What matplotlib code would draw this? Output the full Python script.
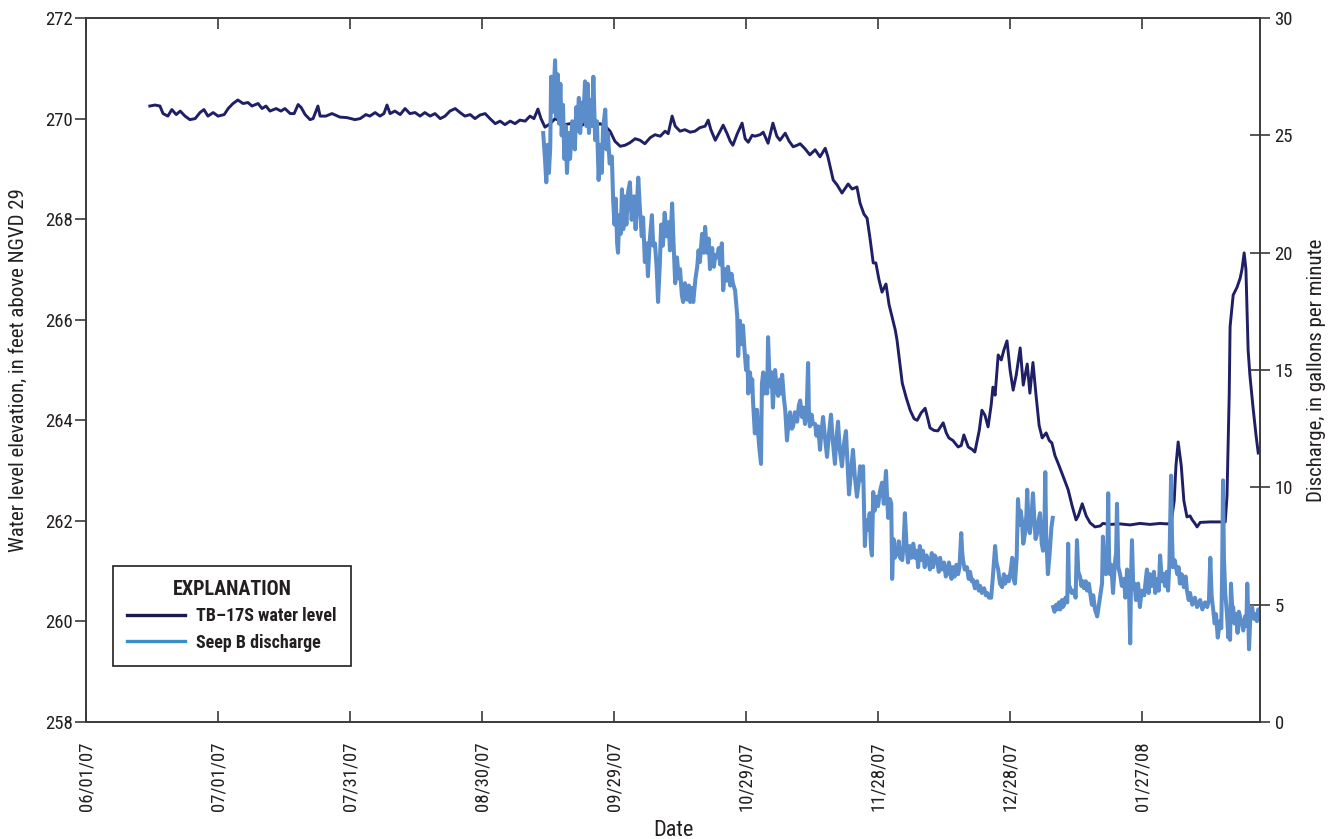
import numpy as np
import pandas as pd
import matplotlib
matplotlib.use('Agg')
import matplotlib.pyplot as plt
import matplotlib.dates as mdates
from matplotlib.lines import Line2D

plt.rcParams['font.family'] = ['Roboto Condensed', 'DejaVu Sans']

start = pd.Timestamp('2007-06-01')

# TB-17S water level, days after 06/01/07 and feet above NGVD 29
wl_day = [14.5, 15.7, 16.8, 17.5, 18.6, 19.5, 20.5, 21.4, 22.5, 23.6, 24.8, 25.9, 26.8, 27.7, 28.9,
          30.0, 31.4, 32.3, 33.4, 34.5, 35.7, 36.8, 37.7, 39.1, 40.0, 40.9, 41.8, 43.2, 44.3, 45.2,
          46.4, 47.3, 48.2, 48.9, 49.8, 50.9, 51.6, 52.7, 53.2, 54.5, 55.9, 57.7, 59.3, 61.1, 62.3,
          63.6, 64.5, 65.7, 66.8, 67.7, 68.4, 69.1, 70.2, 71.4, 72.5, 73.6, 74.8, 75.9, 77.0, 78.2,
          79.3, 80.5, 81.6, 82.7, 83.9, 85.0, 86.1, 87.3, 88.4, 89.5, 90.7, 91.8, 93.0, 94.1, 95.2,
          96.4, 97.5, 98.6, 99.8, 100.9, 101.8, 102.7, 103.4, 104.3, 105.5, 106.6, 107.7, 108.9, 110.0,
          111.1, 112.3, 113.4, 114.5, 115.7, 116.8, 118.0, 119.1, 120.2, 121.4, 122.5, 123.6, 124.8,
          125.9, 127.0, 128.2, 129.3, 130.5, 131.6, 132.3, 133.2, 133.9, 135.0, 136.1, 137.3, 138.4,
          139.5, 140.7, 141.4, 142.0, 143.0, 144.1, 144.8, 145.7, 146.4, 147.0, 148.0, 149.1, 149.8,
          150.5, 151.4, 152.0, 153.2, 153.9, 155.0, 156.1, 157.0, 157.7, 158.9, 159.8, 160.7, 161.6,
          162.3, 163.4, 164.5, 165.7, 166.8, 168.0, 168.6, 169.8, 170.7, 171.8, 173.2, 174.1, 175.2,
          175.9, 176.8, 177.5, 178.2, 178.9, 179.5, 180.2, 180.9, 181.8, 182.5, 183.2, 183.9, 184.3,
          185.0, 185.5, 186.4, 187.3, 188.2, 188.9, 189.8, 190.7, 191.4, 191.8, 192.7, 193.6, 194.8,
          195.5, 196.1, 197.0, 198.2, 198.9, 199.5, 200.5, 201.4, 202.0, 203.0, 203.6, 204.3, 205.0,
          205.7, 206.1, 206.6, 207.3, 208.0, 208.6, 209.3, 210.0, 210.7, 211.4, 212.3, 213.0, 213.9,
          214.5, 215.2, 215.9, 216.6, 217.3, 218.2, 218.9, 219.5, 220.2, 220.9, 222.0, 223.2, 224.1,
          225.0, 225.5, 226.4, 227.3, 228.2, 229.3, 230.5, 231.1, 232.7, 235.0, 237.3, 239.5, 241.8,
          244.1, 245.7, 246.6, 247.3, 247.7, 248.2, 248.9, 249.5, 250.2, 250.9, 251.4, 252.0, 252.5,
          253.2, 255.5, 257.7, 258.9, 259.3, 259.8, 260.0, 260.7, 261.6, 262.3, 262.7, 263.2, 263.6,
          264.1, 264.5, 265.2, 265.9, 266.4]
wl_ft = [270.25, 270.27, 270.25, 270.10, 270.05, 270.18, 270.08, 270.15, 270.05, 269.98, 270.00, 270.12,
         270.18, 270.05, 270.12, 270.05, 270.08, 270.20, 270.30, 270.37, 270.30, 270.32, 270.25, 270.30,
         270.20, 270.25, 270.15, 270.20, 270.15, 270.20, 270.10, 270.10, 270.28, 270.22, 270.08, 269.98,
         270.00, 270.25, 270.05, 270.05, 270.10, 270.03, 270.02, 269.98, 270.00, 270.08, 270.05, 270.12,
         270.05, 270.10, 270.27, 270.10, 270.15, 270.08, 270.20, 270.10, 270.12, 270.05, 270.12, 270.05,
         270.10, 270.00, 270.05, 270.15, 270.20, 270.12, 270.05, 270.08, 270.00, 270.07, 270.10, 270.00,
         269.90, 269.95, 269.88, 269.95, 269.90, 269.97, 269.95, 270.05, 270.00, 270.19, 270.00, 269.83,
         269.90, 270.00, 269.95, 269.88, 269.90, 269.87, 269.85, 269.90, 269.88, 269.85, 269.90, 269.85,
         269.75, 269.55, 269.45, 269.47, 269.52, 269.60, 269.57, 269.50, 269.62, 269.68, 269.65, 269.75,
         269.70, 270.05, 269.85, 269.75, 269.78, 269.73, 269.75, 269.82, 269.85, 269.97, 269.78, 269.57,
         269.75, 269.87, 269.70, 269.55, 269.47, 269.70, 269.91, 269.60, 269.53, 269.67, 269.65, 269.68,
         269.73, 269.51, 269.91, 269.65, 269.57, 269.71, 269.55, 269.44, 269.47, 269.50, 269.40, 269.28,
         269.38, 269.24, 269.41, 269.24, 268.78, 268.68, 268.52, 268.70, 268.60, 268.64, 268.32, 268.10,
         268.02, 267.60, 267.13, 267.13, 266.80, 266.55, 266.71, 266.30, 266.05, 265.80, 265.60, 265.10,
         264.74, 264.45, 264.20, 264.03, 264.00, 264.15, 264.24, 264.00, 263.85, 263.80, 263.79, 263.95,
         263.75, 263.65, 263.60, 263.47, 263.50, 263.71, 263.47, 263.42, 263.37, 263.80, 264.20, 264.10,
         263.87, 264.30, 264.66, 264.50, 265.30, 265.20, 265.40, 265.58, 265.00, 264.60, 264.90, 265.44,
         264.70, 265.12, 264.54, 265.15, 264.50, 263.90, 263.65, 263.75, 263.60, 263.55, 263.30, 263.15,
         262.90, 262.62, 262.30, 262.02, 262.10, 262.34, 262.10, 261.96, 261.88, 261.90, 261.95, 261.93,
         261.94, 261.92, 261.95, 261.93, 261.95, 261.94, 261.96, 262.40, 263.10, 263.57, 263.10, 262.40,
         262.08, 262.10, 262.02, 261.95, 261.88, 261.97, 261.98, 261.98, 261.98, 262.50, 264.50, 265.86,
         266.49, 266.65, 266.83, 267.00, 267.33, 267.00, 265.40, 264.90, 264.27, 263.70, 263.35]

# Seep B discharge, days after 06/01/07 and gallons per minute (nan = gap in record)
q_day = [103.9, 104.3, 104.6, 104.9, 105.2, 105.5, 105.7, 106.1, 106.6, 106.9, 107.2, 107.5, 107.8,
         108.1, 108.4, 108.7, 109.0, 109.3, 109.7, 110.0, 110.5, 111.1, 111.4, 111.6, 112.0, 112.3,
         112.7, 113.0, 113.4, 113.7, 114.0, 114.3, 114.7, 115.0, 115.3, 115.7, 116.1, 116.5, 116.8,
         117.2, 117.5, 118.0, 118.3, 118.6, 119.0, 119.5, 119.8, 120.1, 120.4, 120.7, 120.9, 121.2,
         121.5, 121.8, 122.1, 122.5, 122.8, 123.2, 123.6, 124.0, 124.5, 124.9, 125.5, 125.9, 126.3,
         126.6, 127.0, 127.4, 127.7, 128.1, 128.6, 128.9, 129.3, 129.7, 130.0, 130.4, 130.7, 131.1,
         131.5, 132.0, 132.4, 132.7, 133.2, 133.5, 133.9, 134.3, 134.7, 135.0, 135.4, 135.7, 136.1,
         136.6, 137.0, 137.3, 137.7, 138.0, 138.5, 138.9, 139.2, 139.5, 140.0, 140.4, 140.7, 141.1,
         141.5, 141.8, 142.3, 142.7, 143.0, 143.4, 143.8, 144.1, 144.5, 144.8, 145.2, 145.5, 145.9,
         146.4, 146.7, 147.0, 147.5, 148.0, 148.2, 148.6, 149.0, 149.3, 149.6, 150.0, 150.3, 150.5,
         150.9, 151.2, 151.4, 151.6, 152.0, 152.3, 152.5, 152.8, 153.0, 153.4, 153.6, 153.9, 154.1,
         154.5, 154.8, 155.0, 155.3, 155.5, 155.8, 156.1, 156.4, 156.6, 157.0, 157.3, 157.7, 158.0,
         158.2, 158.6, 158.9, 159.3, 159.7, 160.0, 160.4, 160.7, 161.1, 161.6, 162.0, 162.3, 162.7,
         163.0, 163.4, 163.8, 164.1, 164.3, 164.5, 164.9, 165.2, 165.7, 166.0, 166.4, 166.8, 167.1,
         167.5, 167.9, 168.4, 168.9, 169.3, 169.7, 170.2, 170.5, 170.9, 171.3, 171.8, 172.2, 172.7,
         173.0, 173.4, 173.9, 174.3, 174.7, 175.2, 175.6, 175.9, 176.3, 176.6, 177.0, 177.3, 177.7,
         178.1, 178.4, 178.6, 178.9, 179.2, 179.6, 180.0, 180.4, 180.9, 181.3, 181.8, 182.0, 182.3,
         182.7, 183.0, 183.2, 183.5, 183.8, 184.3, 184.7, 185.0, 185.5, 185.8, 186.1, 186.5, 186.8,
         187.2, 187.6, 188.0, 188.4, 188.8, 189.1, 189.5, 189.9, 190.2, 190.6, 191.0, 191.4, 191.8,
         192.2, 192.5, 192.9, 193.4, 193.8, 194.1, 194.5, 195.0, 195.4, 195.7, 196.1, 196.4, 196.7,
         197.0, 197.4, 197.8, 198.2, 198.5, 198.9, 199.1, 199.3, 199.7, 200.2, 200.6, 200.9, 201.3,
         201.6, 202.0, 202.5, 202.9, 203.2, 203.6, 204.1, 204.5, 204.8, 205.2, 205.7, 206.1, 206.6,
         206.9, 207.3, 207.7, 208.2, 208.6, 208.9, 209.3, 209.7, 210.1, 210.5, 210.8, 211.1, 211.5,
         211.8, 212.2, 212.4, 212.7, 213.0, 213.4, 213.7, 213.9, 214.2, 214.5, 214.8, 215.2, 215.5,
         215.8, 216.1, 216.5, 216.8, 217.2, 217.5, 217.8, 218.0, 218.2, 218.6, 219.0, 219.4, 219.7,
         219.75,
         219.8, 220.1, 220.5, 220.8, 221.1, 221.4, 221.8, 222.0, 222.3, 222.6, 223.0, 223.2, 223.4,
         223.6, 224.0, 224.5, 224.9, 225.2, 225.5, 225.9, 226.2, 226.5, 226.8, 227.2, 227.5, 227.9,
         228.2, 228.6, 228.9, 229.3, 229.8, 230.2, 230.5, 230.9, 231.1, 231.4, 231.8, 232.1, 232.3,
         232.5, 232.7, 233.0, 233.4, 233.7, 233.9, 234.1, 234.3, 234.6, 235.0, 235.4, 235.9, 236.2,
         236.6, 237.0, 237.3, 237.5, 237.7, 238.0, 238.3, 238.6, 239.1, 239.5, 239.9, 240.5, 240.8,
         241.1, 241.5, 241.8, 242.2, 242.7, 243.0, 243.4, 243.8, 244.1, 244.5, 244.8, 245.2, 245.6,
         245.9, 246.2, 246.4, 246.6, 246.8, 247.0, 247.4, 248.0, 248.3, 248.6, 249.0, 249.5, 249.9,
         250.2, 250.6, 250.9, 251.4, 252.0, 252.5, 253.2, 253.7, 254.3, 254.8, 255.2, 255.5, 255.8,
         256.1, 256.5, 256.8, 257.2, 257.7, 258.0, 258.2, 258.4, 258.6, 258.9, 259.3, 259.6, 259.8,
         260.0, 260.2, 260.5, 260.7, 261.0, 261.4, 261.7, 262.0, 262.5, 263.0, 263.4, 263.7, 263.9,
         264.1, 264.3, 264.6, 265.0, 265.4, 265.7, 266.1, 266.4, 266.8]
q_gpm = [25.1, 24.0, 23.0, 24.6, 23.4, 24.5, 27.5, 26.0, 28.2, 25.8, 27.6, 25.5, 27.2,
         25.0, 26.3, 24.0, 25.4, 23.4, 25.1, 24.0, 25.6, 24.4, 26.2, 25.2, 26.6, 25.1,
         26.4, 25.6, 27.3, 25.4, 27.2, 25.1, 26.5, 25.4, 27.5, 24.8, 25.6, 23.1, 24.6,
         23.4, 25.3, 26.1, 24.4, 25.1, 23.8, 24.1, 22.2, 21.2, 22.3, 20.4, 20.0, 21.6,
         20.8, 22.7, 21.0, 22.4, 21.2, 22.6, 23.0, 21.4, 22.4, 21.0, 23.2, 21.8, 20.7,
         21.5, 19.6, 20.4, 19.0, 20.5, 21.6, 20.3, 20.4, 19.3, 17.9, 19.5, 21.2, 20.3,
         21.7, 20.7, 21.3, 20.1, 22.1, 20.5, 18.7, 19.8, 18.9, 19.3, 18.2, 17.9, 18.7,
         18.0, 18.6, 17.9, 18.5, 17.9, 18.9, 19.4, 20.1, 19.6, 20.8, 20.0, 21.1, 20.0,
         20.6, 19.3, 20.2, 19.4, 19.9, 19.8, 20.2, 19.5, 20.4, 18.4, 19.3, 18.8, 19.4,
         18.6, 19.1, 18.7, 18.4, 17.3, 15.6, 17.1, 16.1, 16.9, 16.0, 15.0, 15.6, 14.0,
         14.9, 14.1, 14.6, 13.6, 12.3, 13.3, 13.3, 12.2, 11.7, 11.0, 14.4, 14.9, 14.0,
         14.8, 14.0, 16.4, 14.8, 14.3, 14.9, 13.4, 14.6, 15.0, 14.1, 13.9, 14.6, 14.0,
         14.8, 13.8, 13.3, 12.0, 12.9, 13.2, 12.5, 12.6, 13.2, 12.8, 13.5, 13.7, 13.0,
         13.4, 12.7, 13.4, 15.3, 13.0, 12.6, 13.1, 12.7, 12.7, 12.2, 12.6, 11.6, 12.3,
         13.0, 12.2, 11.3, 12.4, 13.1, 12.0, 11.0, 12.0, 12.8, 11.6, 10.9, 11.8, 12.4,
         11.2, 9.7, 10.8, 11.6, 10.5, 9.6, 10.2, 10.9, 10.3, 10.9, 7.5, 8.6, 8.2,
         8.9, 7.4, 7.1, 9.8, 9.0, 9.6, 9.2, 9.8, 10.2, 9.3, 10.7, 9.8, 8.7,
         9.5, 9.3, 6.1, 7.8, 7.0, 7.2, 7.7, 7.0, 6.9, 7.6, 8.9, 7.4, 6.8,
         7.5, 7.0, 7.6, 7.0, 7.3, 6.6, 7.5, 6.9, 7.3, 6.6, 7.1, 6.9, 6.5,
         7.2, 6.6, 7.1, 6.9, 6.4, 7.0, 6.5, 6.8, 6.2, 6.3, 6.8, 6.5, 6.1,
         6.6, 6.2, 6.7, 6.3, 6.6, 8.05, 7.3, 6.9, 6.5, 6.6, 6.1, 6.4, 6.0,
         6.05, 5.7, 6.0, 5.6, 5.8, 5.5, 5.7, 5.4, 5.5, 5.3, 5.3, 6.2, 7.5,
         6.8, 6.5, 5.9, 5.75, 6.3, 5.9, 6.2, 6.0, 6.4, 7.0, 6.1, 5.9, 7.0,
         9.5, 8.4, 9.0, 8.6, 7.6, 8.05, 8.8, 9.9, 8.3, 8.05, 8.6, 9.75, 8.7,
         7.8, 8.0, 8.6, 8.9, 7.6, 7.3, 8.2, 10.65, 8.0, 6.3, 7.2, 8.3, 8.7,
         np.nan,
         4.9, 4.7, 5.0, 4.8, 5.1, 4.8, 5.2, 4.9, 5.0, 5.3, 5.1, 7.6, 5.6,
         5.75, 5.5, 5.6, 5.3, 7.75, 6.4, 6.2, 5.8, 6.0, 5.7, 6.0, 5.6, 5.9,
         5.5, 5.0, 5.4, 4.8, 4.5, 5.0, 5.4, 5.9, 7.9, 6.9, 6.3, 6.7, 9.75,
         7.0, 6.3, 6.7, 5.5, 6.4, 6.9, 7.2, 9.3, 6.6, 6.3, 5.8, 6.1, 5.3,
         6.5, 5.9, 3.35, 6.2, 7.75, 5.7, 5.9, 5.2, 5.9, 4.9, 5.6, 5.4, 6.0,
         6.5, 5.5, 6.3, 5.8, 6.4, 5.5, 6.1, 5.6, 7.1, 6.0, 6.3, 5.8, 6.4,
         5.6, 6.7, 8.5, 10.5, 8.0, 6.6, 6.9, 6.3, 6.6, 5.9, 6.3, 5.75, 6.2,
         5.6, 5.2, 5.5, 5.0, 5.3, 4.9, 5.2, 4.8, 5.1, 4.9, 5.2, 7.0, 5.4,
         4.9, 4.2, 4.6, 3.6, 4.3, 4.0, 6.5, 10.3, 7.0, 5.5, 4.6, 3.6, 4.2,
         3.5, 5.9, 4.8, 4.9, 4.2, 4.6, 3.8, 4.7, 4.3, 3.9, 4.5, 4.1, 5.9,
         4.8, 3.1, 4.5, 4.9, 4.4, 4.6, 4.3, 4.8, 4.5]

tick_dates = ['2007-06-01', '2007-07-01', '2007-07-31', '2007-08-30', '2007-09-29',
              '2007-10-29', '2007-11-28', '2007-12-28', '2008-01-27']

wl_dates = start + pd.to_timedelta(wl_day, unit='D')
q_dates = start + pd.to_timedelta(q_day, unit='D')

navy = '#1f1f66'
blue = '#5a8dc9'
spine_c = '#3a3a3a'
txt_c = '#231f20'

fig = plt.figure(figsize=(13.4, 8.39), dpi=100)
ax = fig.add_axes([0.0642, 0.1394, 0.8761, 0.8391])
ax2 = ax.twinx()

ax.plot(wl_dates, wl_ft, color=navy, lw=2.1, solid_joinstyle='round')
ax2.plot(q_dates, q_gpm, color=blue, lw=2.9, solid_joinstyle='round')

ax.set_xlim(start, start + pd.Timedelta(days=266.8))
ax.set_ylim(258, 272)
ax2.set_ylim(0, 30)
ax.set_yticks(np.arange(258, 273, 2))
ax2.set_yticks(np.arange(0, 31, 5))

ax.set_xticks(pd.to_datetime(tick_dates))
ax.xaxis.set_major_formatter(mdates.DateFormatter('%m/%d/%y'))
plt.setp(ax.get_xticklabels(), rotation=90)

for a in (ax, ax2):
    for s in a.spines.values():
        s.set_color(spine_c)
        s.set_linewidth(1.2)

ax.tick_params(axis='x', direction='in', length=8, width=1.2, color=spine_c,
               top=True, labelsize=13.5, pad=14, labelcolor=txt_c)
ax.tick_params(axis='y', direction='out', length=8, width=1.2, color=spine_c,
               labelsize=13.5, labelcolor=txt_c, pad=1.5)
ax2.tick_params(axis='y', direction='inout', length=15, width=1.2, color=spine_c,
                labelsize=13.5, labelcolor=txt_c, pad=3)

ax.set_xlabel('Date', fontsize=16, labelpad=6, color=txt_c)
ax.set_ylabel('Water level elevation, in feet above NGVD 29', fontsize=15, labelpad=12, color=txt_c)
ax2.set_ylabel('Discharge, in gallons per minute', fontsize=15, labelpad=10, color=txt_c)

handles = [Line2D([], [], color='#1a1a4e', lw=2.4),
           Line2D([], [], color='#3a8fc8', lw=2.4)]
leg = ax2.legend(handles, ['TB\u201317S water level', 'Seep B discharge'],
                 title='EXPLANATION', loc='lower left', bbox_to_anchor=(0.0153, 0.0668),
                 frameon=True, fancybox=False, edgecolor=txt_c, framealpha=1,
                 prop={'weight': 'bold', 'size': 13}, handlelength=3.2,
                 borderpad=0.8, labelspacing=0.45, handletextpad=0.6, labelcolor=txt_c)
leg.get_title().set_fontweight('bold')
leg.get_title().set_fontsize(14.5)
leg.get_title().set_color(txt_c)
leg.get_frame().set_linewidth(1.2)

fig.savefig('out.png', dpi=100)
